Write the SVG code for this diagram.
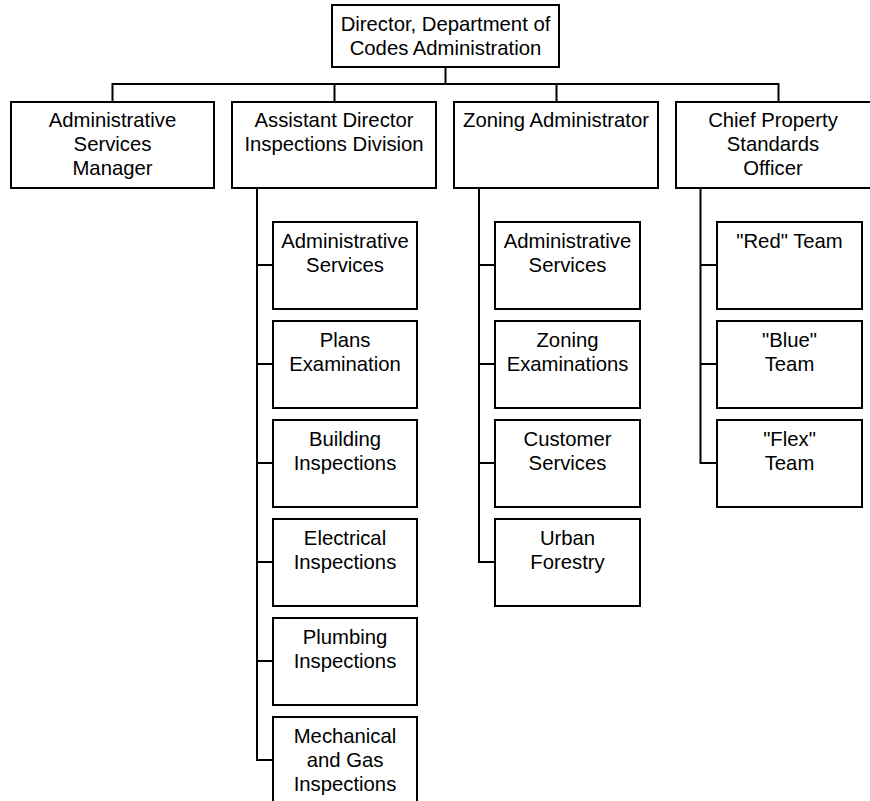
<svg xmlns="http://www.w3.org/2000/svg" width="870" height="801" viewBox="0 0 870 801">
<style>
rect{fill:#fff;stroke:#000;stroke-width:2}
.c line,.c path{stroke:#000;stroke-width:2;fill:none}
text{font-family:"Liberation Sans",Arial,sans-serif;font-size:20.3px;fill:#000;text-anchor:middle}
</style>
<g class="c" id="connectors">
<line x1="445.5" y1="67" x2="445.5" y2="84"/>
<path d="M112.5 101 V84 H778.5 V101"/>
<line x1="334.5" y1="84" x2="334.5" y2="101"/>
<line x1="556.5" y1="84" x2="556.5" y2="101"/>
<path d="M257 188 V760 H273"/>
<line x1="257" y1="265" x2="273" y2="265"/>
<line x1="257" y1="364" x2="273" y2="364"/>
<line x1="257" y1="463" x2="273" y2="463"/>
<line x1="257" y1="562" x2="273" y2="562"/>
<line x1="257" y1="661" x2="273" y2="661"/>
<path d="M479 188 V562 H495"/>
<line x1="479" y1="265" x2="495" y2="265"/>
<line x1="479" y1="364" x2="495" y2="364"/>
<line x1="479" y1="463" x2="495" y2="463"/>
<path d="M700.5 188 V463 H717"/>
<line x1="700.5" y1="265" x2="717" y2="265"/>
<line x1="700.5" y1="364" x2="717" y2="364"/>
</g>
<g id="director"><rect x="332" y="5" width="227" height="62"/><text x="445.5" y="31">Director, Department of</text><text x="445.5" y="55">Codes Administration</text></g>
<g id="asm"><rect x="11" y="102" width="203" height="86"/><text x="112.5" y="127">Administrative</text><text x="112.5" y="151">Services</text><text x="112.5" y="175">Manager</text></g>
<g id="adid"><rect x="232" y="102" width="204" height="86"/><text x="334" y="127">Assistant Director</text><text x="334" y="151">Inspections Division</text></g>
<g id="za"><rect x="454" y="102" width="204" height="86"/><text x="556" y="127">Zoning Administrator</text></g>
<g id="cpso"><rect x="676" y="102" width="198" height="86"/><text x="773" y="127">Chief Property</text><text x="773" y="151">Standards</text><text x="773" y="175">Officer</text></g>
<g id="i1"><rect x="273" y="222" width="144" height="87"/><text x="345" y="248">Administrative</text><text x="345" y="272">Services</text></g>
<g id="i2"><rect x="273" y="321" width="144" height="87"/><text x="345" y="347">Plans</text><text x="345" y="371">Examination</text></g>
<g id="i3"><rect x="273" y="420" width="144" height="87"/><text x="345" y="446">Building</text><text x="345" y="470">Inspections</text></g>
<g id="i4"><rect x="273" y="519" width="144" height="87"/><text x="345" y="545">Electrical</text><text x="345" y="569">Inspections</text></g>
<g id="i5"><rect x="273" y="618" width="144" height="87"/><text x="345" y="644">Plumbing</text><text x="345" y="668">Inspections</text></g>
<g id="i6"><rect x="273" y="717" width="144" height="87"/><text x="345" y="743">Mechanical</text><text x="345" y="767">and Gas</text><text x="345" y="791">Inspections</text></g>
<g id="z1"><rect x="495" y="222" width="145" height="87"/><text x="567.5" y="248">Administrative</text><text x="567.5" y="272">Services</text></g>
<g id="z2"><rect x="495" y="321" width="145" height="87"/><text x="567.5" y="347">Zoning</text><text x="567.5" y="371">Examinations</text></g>
<g id="z3"><rect x="495" y="420" width="145" height="87"/><text x="567.5" y="446">Customer</text><text x="567.5" y="470">Services</text></g>
<g id="z4"><rect x="495" y="519" width="145" height="87"/><text x="567.5" y="545">Urban</text><text x="567.5" y="569">Forestry</text></g>
<g id="p1"><rect x="717" y="222" width="145" height="87"/><text x="789.5" y="248">"Red" Team</text></g>
<g id="p2"><rect x="717" y="321" width="145" height="87"/><text x="789.5" y="347">"Blue"</text><text x="789.5" y="371">Team</text></g>
<g id="p3"><rect x="717" y="420" width="145" height="87"/><text x="789.5" y="446">"Flex"</text><text x="789.5" y="470">Team</text></g>
</svg>
